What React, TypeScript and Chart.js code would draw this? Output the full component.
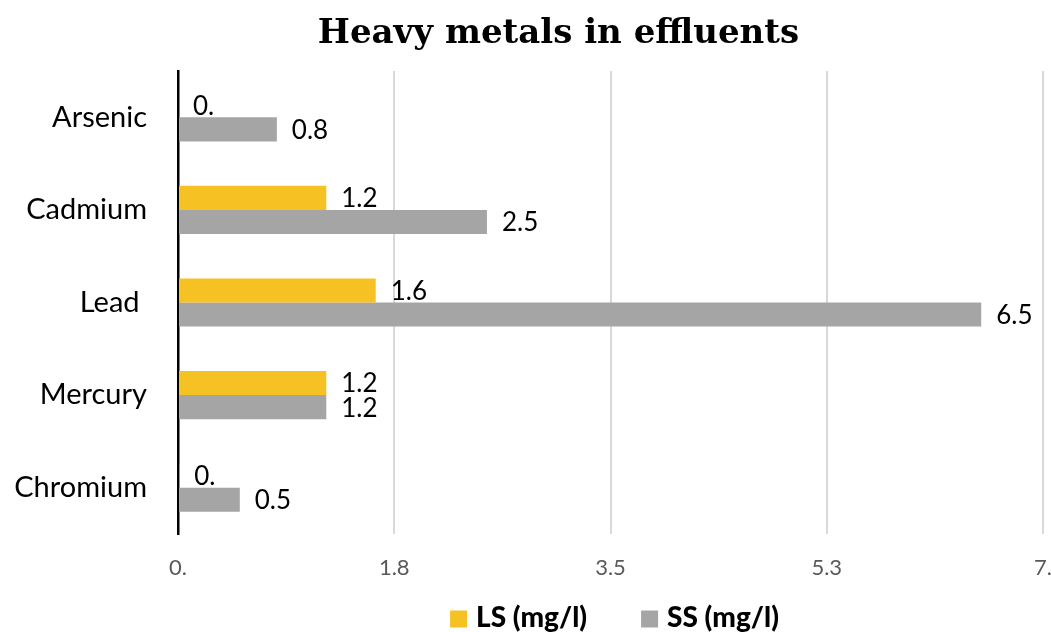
import React, { useEffect, useRef } from "react";
import { Chart, registerables } from "chart.js";

Chart.register(...registerables);

// Categories and series values (mg/l)
const categories = ["Arsenic", "Cadmium", "Lead ", "Mercury", "Chromium"];
const lsValues = [0, 1.2, 1.6, 1.2, 0.01];
const ssValues = [0.8, 2.5, 6.5, 1.2, 0.5];
const seriesNames = ["LS (mg/l)", "SS (mg/l)"];
const seriesColors = ["#F6C122", "#A5A5A5"];

// Value axis
const xMin = 0;
const xMax = 7;
const xStep = 1.75;
const xTickLabels = ["0.", "1.8", "3.5", "5.3", "7."];

const chartTitle = "Heavy metals in effluents";

const W = 1051;
const H = 632;

const formatValue = (v: number) => (Math.round(v * 10) === 0 ? "0." : v.toFixed(1));

// Title drawn above the plot, centred slightly right of the canvas middle
const titlePlugin = {
  id: "titlePlugin",
  afterDraw(chart: any) {
    const ctx = chart.ctx;
    ctx.save();
    ctx.font = "bold 34px 'DejaVu Serif'";
    ctx.fillStyle = "#000000";
    ctx.textAlign = "center";
    ctx.textBaseline = "alphabetic";
    ctx.fillText(chartTitle, (chart.width + 66) / 2, 43);
    ctx.restore();
  },
};

// Value labels to the right of each bar
const valueLabels = {
  id: "valueLabels",
  afterDatasetsDraw(chart: any) {
    const ctx = chart.ctx;
    ctx.save();
    ctx.font = "26px Lato";
    ctx.fillStyle = "#000000";
    ctx.textAlign = "left";
    ctx.textBaseline = "middle";
    chart.data.datasets.forEach((ds: any, di: number) => {
      const meta = chart.getDatasetMeta(di);
      meta.data.forEach((el: any, i: number) => {
        ctx.fillText(formatValue(ds.data[i]), el.x + 15, el.y + 1);
      });
    });
    ctx.restore();
  },
};

// Legend row below the value axis
const bottomLegend = {
  id: "bottomLegend",
  afterDraw(chart: any) {
    const ctx = chart.ctx;
    ctx.save();
    ctx.font = "900 28px Lato";
    ctx.textBaseline = "middle";
    ctx.textAlign = "left";
    const box = 17;
    const gapText = 9;
    const gapItem = 54;
    const widths = chart.data.datasets.map((ds: any) => ctx.measureText(ds.label).width);
    const total =
      widths.reduce((a: number, w: number) => a + box + gapText + w, 0) +
      gapItem * (widths.length - 1);
    let x = (chart.chartArea.left + chart.width) / 2 - total / 2;
    const y = chart.chartArea.bottom + 84;
    chart.data.datasets.forEach((ds: any, i: number) => {
      ctx.fillStyle = ds.backgroundColor;
      ctx.fillRect(x, y - box / 2 + 1, box, box);
      ctx.fillStyle = "#000000";
      ctx.fillText(ds.label, x + box + gapText, y);
      x += box + gapText + widths[i] + gapItem;
    });
    ctx.restore();
  },
};

export default function App() {
  const canvasRef = useRef<HTMLCanvasElement | null>(null);

  useEffect(() => {
    document.body.style.margin = "0";
    const canvas = canvasRef.current;
    if (!canvas) return;
    const chart = new Chart(canvas, {
      type: "bar",
      data: {
        labels: categories,
        datasets: [
          {
            label: seriesNames[0],
            data: lsValues,
            backgroundColor: seriesColors[0],
            categoryPercentage: 0.52,
            barPercentage: 1,
          },
          {
            label: seriesNames[1],
            data: ssValues,
            backgroundColor: seriesColors[1],
            categoryPercentage: 0.52,
            barPercentage: 1,
          },
        ],
      },
      options: {
        indexAxis: "y",
        animation: false,
        responsive: false,
        devicePixelRatio: 1,
        layout: { padding: { left: 0, right: 0, top: 71, bottom: 53 } },
        scales: {
          x: {
            min: xMin,
            max: xMax,
            afterFit: (scale: any) => {
              scale.height = 45;
              scale.paddingLeft = 0;
              scale.paddingRight = 8;
              scale.paddingTop = 0;
              scale.paddingBottom = 0;
            },
            afterBuildTicks: (scale: any) => {
              scale.ticks = xTickLabels.map((_, i) => ({ value: xMin + i * xStep }));
            },
            ticks: {
              callback: (_v: any, i: number) => xTickLabels[i],
              font: { family: "Lato", size: 22 },
              color: "#595959",
              padding: 21,
              maxRotation: 0,
            },
            grid: { color: "#D9D9D9", lineWidth: 2, drawTicks: false },
            border: { display: false },
          },
          y: {
            afterFit: (scale: any) => {
              scale.width = 178;
              scale.paddingTop = 0;
              scale.paddingBottom = 0;
            },
            ticks: {
              font: { family: "Lato", size: 29 },
              color: "#000000",
              padding: 31,
            },
            grid: { display: false, drawTicks: false },
            border: { display: true, color: "#000000", width: 2.5 },
          },
        },
        plugins: {
          legend: { display: false },
          tooltip: { enabled: false },
          title: { display: false },
        },
      },
      plugins: [titlePlugin, valueLabels, bottomLegend],
    });
    return () => chart.destroy();
  }, []);

  return (
    <div style={{ width: W, height: H, background: "#ffffff" }}>
      <canvas ref={canvasRef} width={W} height={H} style={{ display: "block" }} />
    </div>
  );
}
